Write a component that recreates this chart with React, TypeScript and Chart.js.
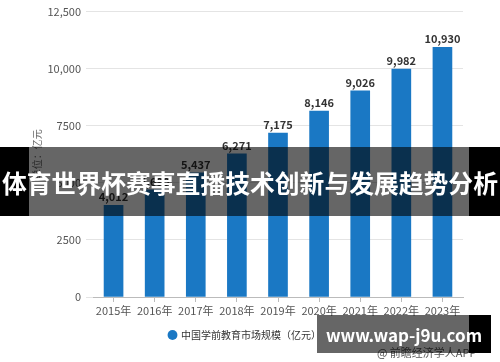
import React, { useEffect, useRef } from "react";
import { Chart, registerables } from "chart.js";

Chart.register(...registerables);

const categories = ["2015年", "2016年", "2017年", "2018年", "2019年", "2020年", "2021年", "2022年", "2023年"];
const marketSize = [4012, 4690, 5437, 6271, 7175, 8146, 9026, 9982, 10930];
const valueLabels = ["4,012", "4,690", "5,437", "6,271", "7,175", "8,146", "9,026", "9,982", "10,930"];
const yTickValues = [0, 2500, 5000, 7500, 10000, 12500];
const yTickLabels = ["0", "2500", "5000", "7500", "10,000", "12,500"];
const seriesName = "中国学前教育市场规模（亿元）";
const yTitle = "单位：亿元";
const bannerText = "体育世界杯赛事直播技术创新与发展趋势分析";
const siteText = "www.wap-j9u.com";
const sourceText = "@ 前瞻经济学人APP";

const FONT = "'Noto Sans CJK SC', 'Noto Sans', sans-serif";

const valueLabelPlugin = {
  id: "valueLabels",
  afterDatasetsDraw(chart: any) {
    const { ctx } = chart;
    const meta = chart.getDatasetMeta(0);
    ctx.save();
    ctx.font = `bold 11px ${FONT}`;
    ctx.fillStyle = "#333333";
    ctx.textAlign = "center";
    ctx.textBaseline = "bottom";
    meta.data.forEach((bar: any, i: number) => {
      ctx.fillText(valueLabels[i], bar.x, bar.y - 3);
    });
    ctx.restore();
  },
};

export default function App() {
  const ref = useRef<HTMLCanvasElement | null>(null);
  useEffect(() => {
    if (!ref.current) return;
    const chart = new Chart(ref.current, {
      type: "bar",
      data: {
        labels: categories,
        datasets: [
          {
            label: seriesName,
            data: marketSize,
            backgroundColor: "#1a78c4",
            barThickness: 19,
          },
        ],
      },
      options: {
        responsive: false,
        animation: false,
        layout: { padding: { left: 27, right: 37, top: 10, bottom: 12 } },
        plugins: {
          legend: {
            position: "bottom",
            labels: {
              usePointStyle: true,
              pointStyle: "circle",
              boxWidth: 7,
              boxHeight: 7,
              padding: 10,
              color: "#333333",
              font: { family: FONT, size: 10 },
            },
          },
          tooltip: { enabled: false },
        },
        scales: {
          x: {
            afterFit: (s: any) => {
              s.height = 23;
            },
            grid: {
              offset: false,
              drawOnChartArea: false,
              drawTicks: true,
              tickLength: 5,
              color: "#bbbbbb",
            },
            border: { color: "#bbbbbb" },
            ticks: {
              color: "#555555",
              padding: 2,
              maxRotation: 0,
              minRotation: 0,
              autoSkip: false,
              font: { family: FONT, size: 11 },
            },
          },
          y: {
            min: 0,
            max: 12500,
            afterFit: (s: any) => {
              s.width = 66;
            },
            afterBuildTicks: (s: any) => {
              s.ticks = yTickValues.map((v) => ({ value: v }));
            },
            grid: { color: "#e4e4e4", tickLength: 7 },
            border: { display: false },
            title: {
              display: true,
              text: yTitle,
              color: "#666666",
              padding: { top: 4, bottom: 4 },
              font: { family: FONT, size: 10 },
            },
            ticks: {
              color: "#555555",
              padding: 5,
              font: { family: FONT, size: 11 },
              callback: (v: any) => {
                const i = yTickValues.indexOf(Number(v));
                return i >= 0 ? yTickLabels[i] : "";
              },
            },
          },
        },
      },
      plugins: [valueLabelPlugin],
    } as any);
    return () => chart.destroy();
  }, []);

  return (
    <div style={{ position: "fixed", left: 0, top: 0, width: 500, height: 362, background: "#ffffff", overflow: "hidden" }}>
      <canvas ref={ref} width={500} height={362} style={{ display: "block", width: 500, height: 362 }} />
      <div style={{ position: "absolute", left: 0, top: 147, width: 29, height: 69, background: "#000" }} />
      <div style={{ position: "absolute", left: 29, top: 147, width: 440, height: 69, background: "rgba(0,0,0,0.6)" }} />
      <div style={{ position: "absolute", left: 469, top: 147, width: 31, height: 69, background: "#000" }} />
      <div
        style={{
          position: "absolute",
          left: 0,
          top: 147,
          width: 500,
          height: 69,
          display: "flex",
          alignItems: "center",
          justifyContent: "center",
          color: "#fff",
          fontFamily: FONT,
          fontWeight: 700,
          fontSize: 24.8,
          whiteSpace: "nowrap",
        }}
      >
        {bannerText}
      </div>
      <div
        style={{
          position: "absolute",
          left: 377,
          top: 344,
          color: "#555",
          fontFamily: FONT,
          fontSize: 11,
          lineHeight: "16px",
          whiteSpace: "nowrap",
        }}
      >
        {sourceText}
      </div>
      <div style={{ position: "absolute", left: 317, top: 315, width: 152, height: 38, background: "rgba(0,0,0,0.6)" }} />
      <div style={{ position: "absolute", left: 469, top: 315, width: 22, height: 38, background: "#000" }} />
      <div
        style={{
          position: "absolute",
          left: 317,
          top: 315,
          width: 174,
          height: 38,
          display: "flex",
          alignItems: "center",
          justifyContent: "center",
          color: "#fff",
          fontFamily: FONT,
          fontWeight: 700,
          fontSize: 17,
          whiteSpace: "nowrap",
        }}
      >
        {siteText}
      </div>
    </div>
  );
}
